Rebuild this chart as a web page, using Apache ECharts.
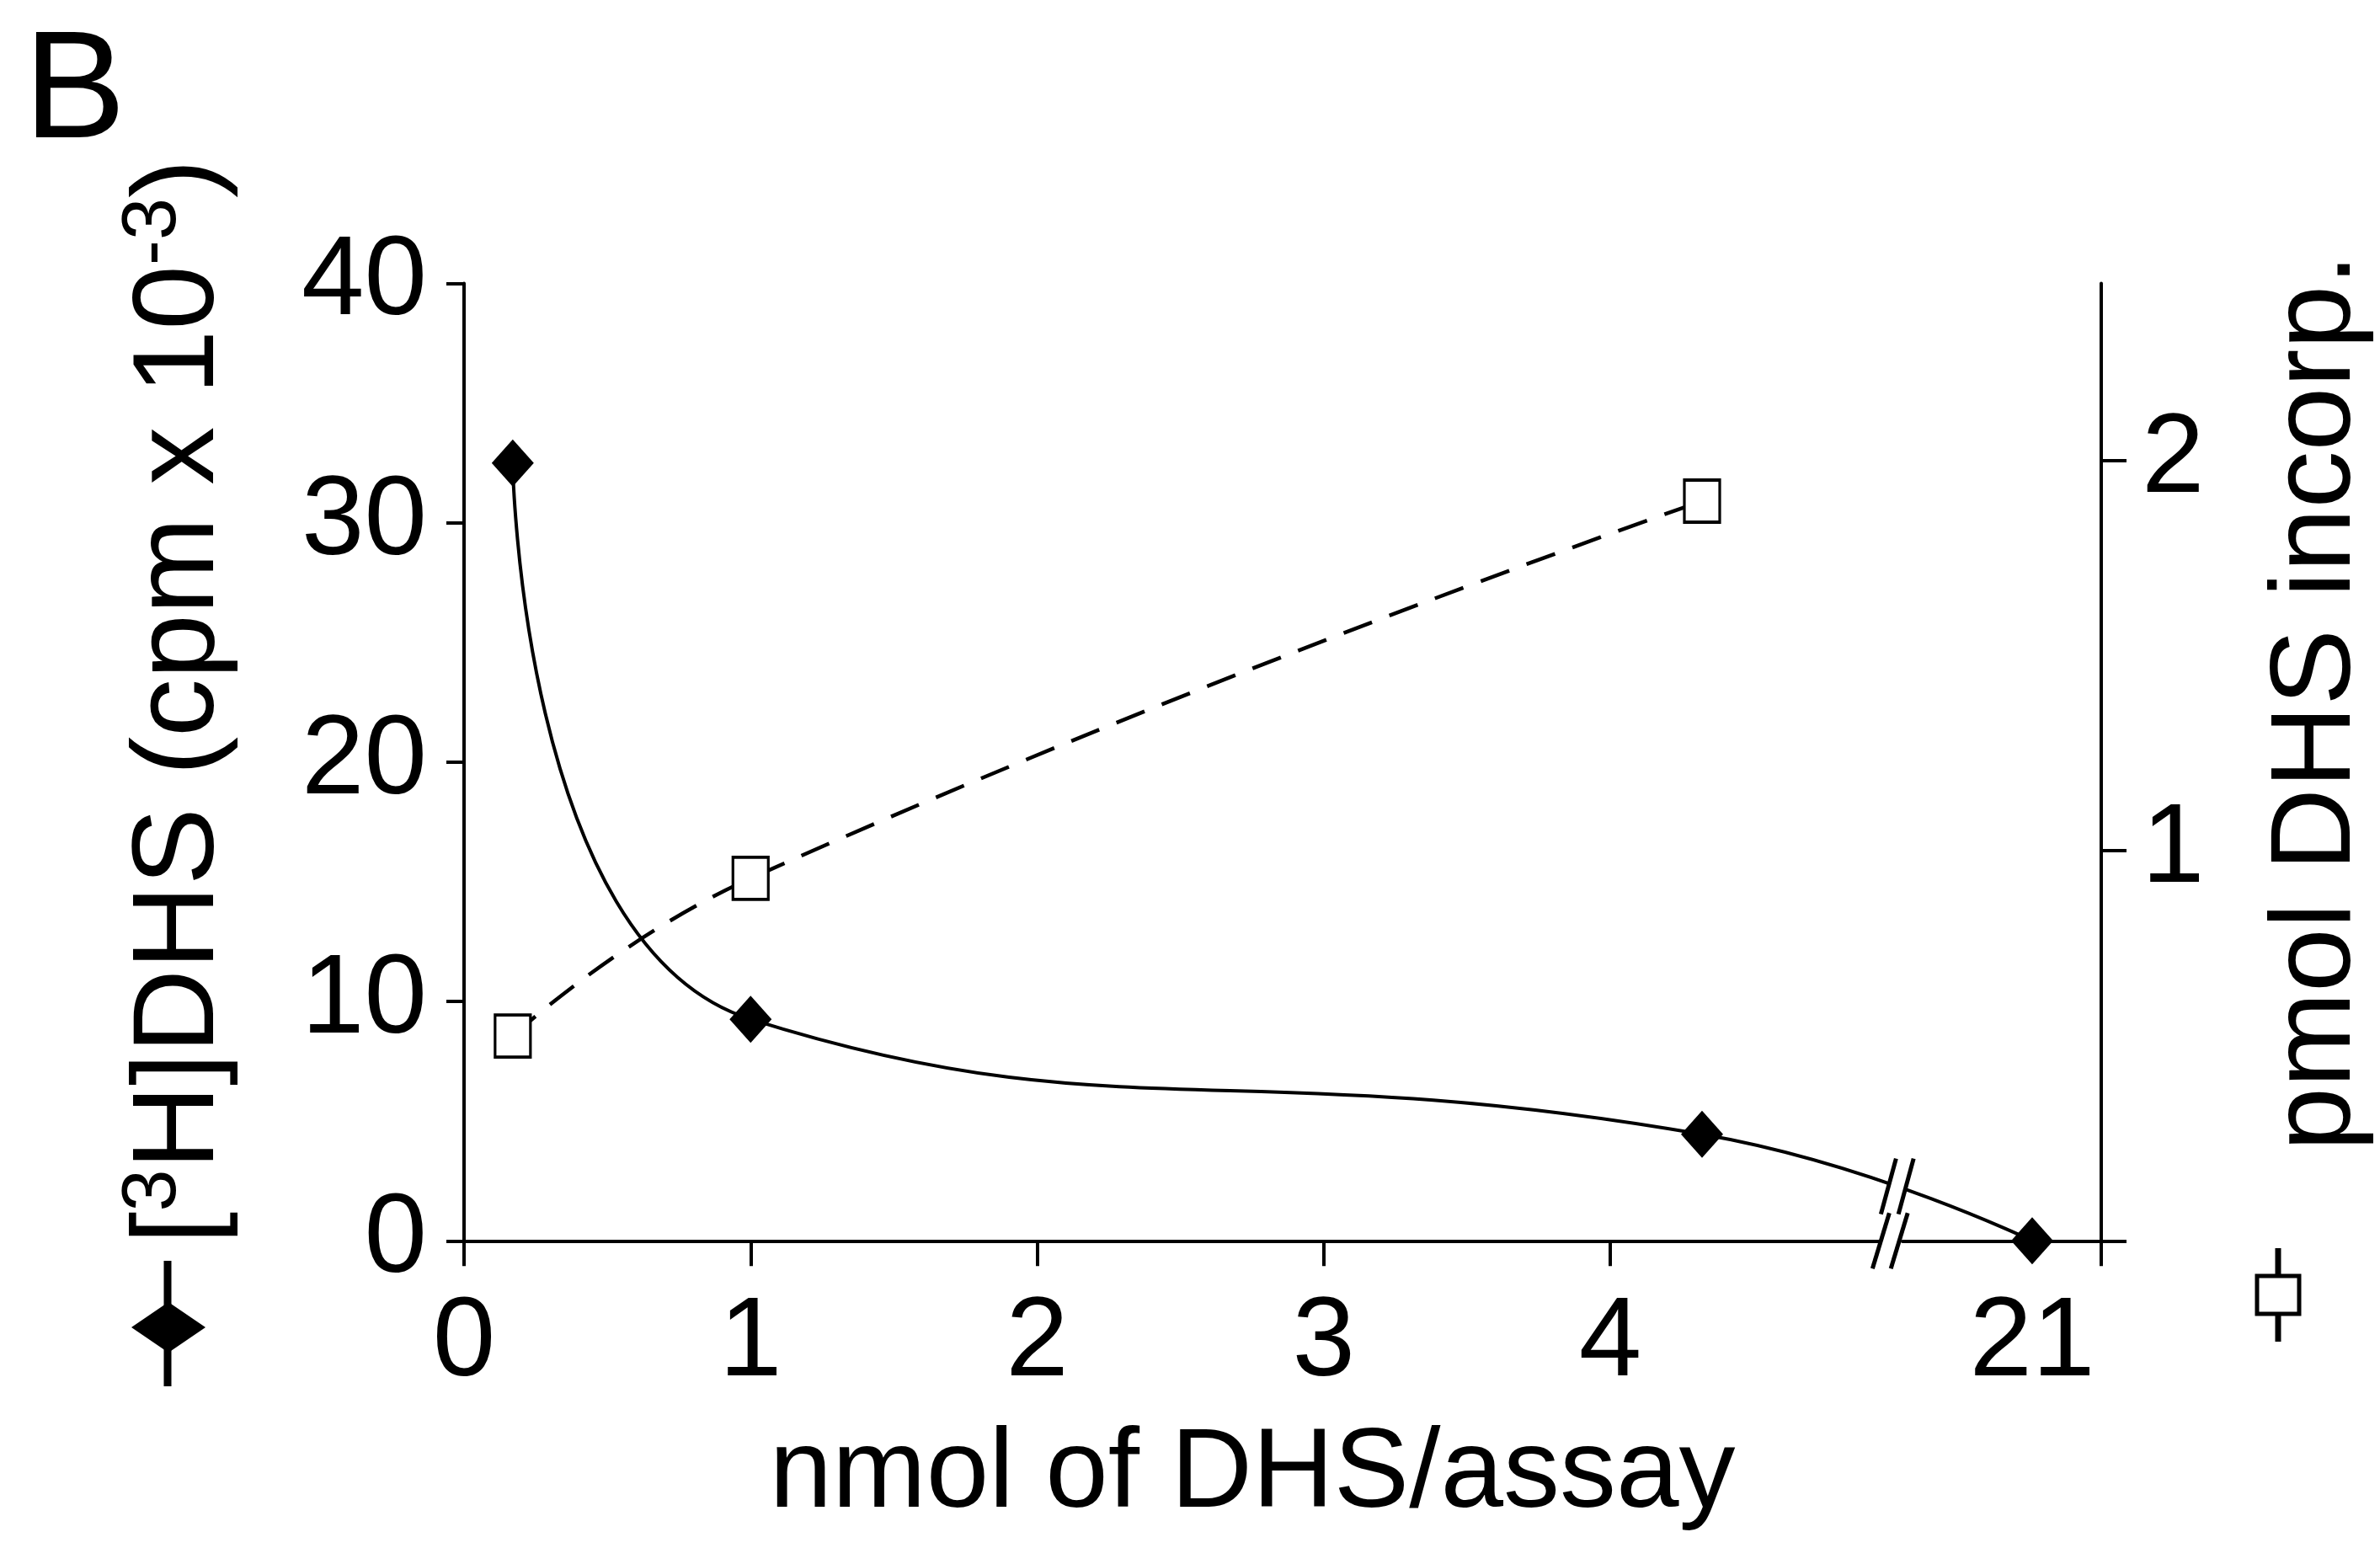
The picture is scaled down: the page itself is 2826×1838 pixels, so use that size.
<!DOCTYPE html>
<html>
<head>
<meta charset="utf-8">
<script src="https://cdn.jsdelivr.net/npm/echarts@6/dist/echarts.min.js"></script>
<style>
  html, body { margin: 0; padding: 0; background: #fff; }
  #chart { width: 2826px; height: 1838px; }
</style>
</head>
<body>
<div id="chart"></div>
<script>
// nmol of DHS per assay (x) and the two read-outs
const doseX = [0.17, 1, 4.32, 21];
const cpmValues = [32.5, 9.26, 4.45, 0];          // [3H]DHS, cpm x 10^-3 (left axis)
const incorpX = [0.17, 1, 4.32];
const incorpValues = [0.525, 0.929, 1.896];        // pmol DHS incorp. (right axis)

const xLabelValues = [0, 1, 2, 3, 4, 21];
const xMax = 21.241;
const doseBreak = { start: 4.95, end: 20.548, gap: 0.07 };
const rightTickValues = [0, 1, 2];
const rightLabelValues = [1, 2];
const rightMax = 2.454;

const font = '"Liberation Sans", Arial, Helvetica, sans-serif';
const black = "#000";

const chart = echarts.init(document.getElementById("chart"), null, { renderer: "canvas" });

chart.setOption({
  animation: false,
  backgroundColor: "#fff",
  textStyle: { fontFamily: font, color: black },
  grid: { left: 551, right: 331, top: 336.5, bottom: 364.7, containLabel: false, outerBoundsMode: "none" },
  xAxis: {
    type: "value",
    min: 0,
    max: xMax,
    breaks: [doseBreak],
    breakArea: { show: false },
    axisLine: { show: true, onZero: false, lineStyle: { color: black, width: 4 } },
    axisTick: { show: true, length: 30, customValues: [0, 1, 2, 3, 4, xMax], lineStyle: { color: black, width: 4 } },
    axisLabel: {
      customValues: xLabelValues,
      margin: 56,
      fontSize: 134,
      fontFamily: font,
      color: black,
      formatter: (value) => String(Math.round(value))
    },
    splitLine: { show: false }
  },
  yAxis: [
    {
      type: "value",
      position: "left",
      min: 0,
      max: 40,
      interval: 10,
      axisLine: { show: true, onZero: false, lineStyle: { color: black, width: 4 } },
      axisTick: { show: true, length: 21, lineStyle: { color: black, width: 4 } },
      axisLabel: { margin: 44, fontSize: 134, fontFamily: font, color: black },
      splitLine: { show: false }
    },
    {
      type: "value",
      position: "right",
      min: 0,
      max: rightMax,
      axisLine: { show: true, onZero: false, lineStyle: { color: black, width: 4 } },
      axisTick: { show: true, length: 30, customValues: rightTickValues, lineStyle: { color: black, width: 4 } },
      axisLabel: { customValues: rightLabelValues, margin: 48, fontSize: 134, fontFamily: font, color: black },
      splitLine: { show: false }
    }
  ],
  series: [
    {
      type: "line",
      name: "cpm",
      data: doseX.map((x, i) => [x, cpmValues[i]]),
      smooth: true,
      symbol: "diamond",
      symbolSize: [50, 56],
      itemStyle: { color: black },
      lineStyle: { color: black, width: 4 },
      z: 3
    },
    {
      type: "line",
      name: "incorp",
      yAxisIndex: 1,
      data: incorpX.map((x, i) => [x, incorpValues[i]]),
      smooth: true,
      symbol: "rect",
      symbolSize: [42, 50],
      itemStyle: { color: "#fff", borderColor: black, borderWidth: 3.5 },
      lineStyle: { color: black, width: 4.5, type: [36, 22] },
      z: 4
    }
  ]
});

// y of the smoothed cpm line at pixel x, inside the last segment (same bezier as the line series)
function cpmCurveY(px) {
  const p = doseX.map((x, i) => chart.convertToPixel({ xAxisIndex: 0, yAxisIndex: 0 }, [x, cpmValues[i]]));
  const [p1, p2, p3] = [p[1], p[2], p[3]];
  const vx = p3[0] - p1[0];
  const vy = p3[1] - p1[1];
  const lenPrev = Math.hypot(p2[0] - p1[0], p2[1] - p1[1]);
  const lenNext = Math.hypot(p3[0] - p2[0], p3[1] - p2[1]);
  const ratio = lenNext / (lenPrev + lenNext);
  const c0 = [p2[0] + vx * 0.5 * ratio, p2[1] + vy * 0.5 * ratio];
  const bez = (t, k) => {
    const u = 1 - t;
    return u * u * u * p2[k] + 3 * u * u * t * c0[k] + 3 * u * t * t * p3[k] + t * t * t * p3[k];
  };
  let lo = 0, hi = 1;
  for (let i = 0; i < 40; i++) {
    const mid = (lo + hi) / 2;
    if (bez(mid, 0) < px) lo = mid; else hi = mid;
  }
  return bez((lo + hi) / 2, 1);
}

function breakMark(cx1, cx2, cy, half, slant) {
  return [
    {
      type: "polygon",
      z: 100,
      shape: { points: [[cx1 - slant, cy + half * 0.7], [cx1 + slant, cy - half * 0.7], [cx2 + slant, cy - half * 0.7], [cx2 - slant, cy + half * 0.7]] },
      style: { fill: "#fff" }
    },
    { type: "line", z: 101, shape: { x1: cx1 - slant, y1: cy + half, x2: cx1 + slant, y2: cy - half }, style: { stroke: black, lineWidth: 5 } },
    { type: "line", z: 101, shape: { x1: cx2 - slant, y1: cy + half, x2: cx2 + slant, y2: cy - half }, style: { stroke: black, lineWidth: 5 } }
  ];
}

const breakLeft = chart.convertToPixel({ xAxisIndex: 0 }, doseBreak.start);
const breakRight = chart.convertToPixel({ xAxisIndex: 0 }, doseBreak.end);
const axisY = chart.convertToPixel({ yAxisIndex: 0 }, 0);
const upperX1 = breakLeft + 7;
const upperX2 = breakRight + 4;
const upperY = cpmCurveY((upperX1 + upperX2) / 2);

chart.setOption({
  graphic: [
    {
      type: "text", x: 28, y: 22, z: 100,
      style: { text: "B", fontSize: 182, fontFamily: font, fill: black, align: "left", verticalAlign: "top" }
    },
    {
      type: "text", x: 211, y: 833, rotation: Math.PI / 2, z: 100,
      style: {
        text: "{t|[}{s|3}{t|H]DHS (cpm x 10}{s|-3}{t|)}",
        fontSize: 138, fontFamily: font, fill: black, align: "center", verticalAlign: "middle",
        rich: {
          t: { fontSize: 138, fontFamily: font, fill: black, lineHeight: 146, verticalAlign: "bottom" },
          s: { fontSize: 90, fontFamily: font, fill: black, lineHeight: 90, verticalAlign: "top" }
        }
      }
    },
    {
      type: "text", x: 2752, y: 834, rotation: Math.PI / 2, z: 100,
      style: { text: "pmol DHS incorp.", fontSize: 136, fontFamily: font, fill: black, align: "center", verticalAlign: "middle" }
    },
    {
      type: "text", x: 1487, y: 1752, z: 100,
      style: { text: "nmol of DHS/assay", fontSize: 134, fontFamily: font, fill: black, align: "center", verticalAlign: "middle" }
    },
    // legend keys beside the axis titles
    { type: "line", z: 100, shape: { x1: 199, y1: 1497, x2: 199, y2: 1646 }, style: { stroke: black, lineWidth: 9 } },
    { type: "polygon", z: 101, shape: { points: [[156, 1576], [200, 1546], [244, 1576], [200, 1606]] }, style: { fill: black } },
    { type: "line", z: 100, shape: { x1: 2705, y1: 1482, x2: 2705, y2: 1593 }, style: { stroke: black, lineWidth: 7 } },
    { type: "rect", z: 101, shape: { x: 2680, y: 1515, width: 50, height: 45 }, style: { fill: "#fff", stroke: black, lineWidth: 5 } },
    // axis break marks
    ...breakMark(breakLeft - 2, breakRight - 4, axisY, 33, 10),
    ...breakMark(upperX1, upperX2, upperY, 33, 9)
  ]
});
</script>
</body>
</html>
